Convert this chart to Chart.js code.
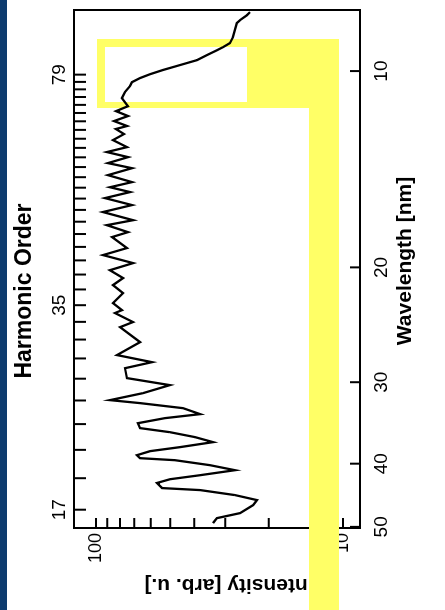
<!DOCTYPE html>
<html>
<head>
<meta charset="utf-8">
<script src="https://cdn.jsdelivr.net/npm/chart.js@4.4.1/dist/chart.umd.min.js"></script>
<style>
  html, body { margin: 0; padding: 0; background: #fff; }
  body { width: 445px; height: 610px; overflow: hidden; position: relative; }
  #spectrum { position: absolute; left: 0; top: 0; transform-origin: 0 0; }
</style>
</head>
<body>
<canvas id="spectrum"></canvas>
<script>
// harmonic spectrum, drawn with wavelength along x and then turned 90deg to the left
const wavelengthNm = [
  8.12, 8.21, 8.35, 8.44, 8.65, 8.87, 9.06, 9.19, 9.29, 9.45,
  9.62, 9.72, 9.82, 9.96, 10.11, 10.25, 10.40, 10.54, 10.77, 11.00,
  11.32, 11.52, 11.72, 11.93, 12.14, 12.27, 12.49, 12.76, 13.08, 13.31,
  13.55, 13.84, 14.09, 14.44, 14.80, 15.07, 15.33, 15.66, 16.05, 16.45,
  16.93, 17.23, 17.66, 17.97, 18.68, 19.15, 19.70, 20.20, 20.77, 21.29,
  21.90, 22.69, 23.26, 23.50, 24.26, 24.70, 26.04, 27.26, 27.95, 28.55,
  29.57, 30.31, 31.18, 31.96, 32.30, 32.88, 33.58, 34.06, 34.67, 35.28,
  35.79, 36.42, 37.07, 37.73, 38.27, 38.82, 39.23, 39.51, 40.21, 40.93,
  41.66, 42.26, 42.82, 43.60, 43.91, 44.69, 45.49, 46.30, 47.63, 48.48,
  49.34
];
const intensity = [
  23.8, 24.5, 26.1, 26.9, 27.4, 27.9, 28.7, 30.6, 32.4, 35.5,
  39.0, 42.8, 47.0, 53.5, 60.4, 66.3, 71.5, 72.8, 76.3, 78.5,
  74.2, 83.0, 74.2, 84.5, 74.9, 83.0, 77.0, 85.3, 74.9, 90.3,
  74.2, 89.4, 71.5, 89.4, 71.5, 87.8, 72.8, 91.9, 71.5, 93.7,
  70.8, 90.3, 74.2, 86.1, 74.9, 93.7, 70.8, 87.8, 77.7, 85.3,
  77.7, 85.3, 78.5, 83.8, 70.8, 79.9, 66.3, 82.2, 59.3, 76.3,
  74.9, 50.2, 64.5, 87.8, 66.3, 44.4, 37.9, 52.6, 67.6, 66.3,
  50.2, 39.7, 33.6, 45.7, 60.4, 68.2, 66.3, 47.9, 34.6, 27.4,
  37.9, 50.2, 56.6, 54.0, 37.9, 27.4, 22.3, 23.1, 26.1, 32.4,
  33.6
];

const wavelengthTicks = [10, 20, 30, 40, 50];
const intensityTicks = [10, 20, 30, 40, 50, 60, 70, 80, 90, 100];
const intensityLabels = [10, 100];
const harmonicOrders = [17, 19, 21, 23, 25, 27, 29, 31, 33, 35, 37, 39, 41, 43, 45, 47,
  49, 51, 53, 55, 57, 59, 61, 63, 65, 67, 69, 71, 73, 75, 77, 79];
const harmonicLabels = [17, 35, 79];
const laserNm = 800;

const W = 610, H = 445;
const font = 'Liberation Sans, Arial, sans-serif';

const cv = document.getElementById('spectrum');
cv.width = W; cv.height = H;
cv.style.width = W + 'px'; cv.style.height = H + 'px';
cv.style.transform = 'translate(0px, 610px) rotate(-90deg)';

// rectangle given in page coords (after turning) -> canvas
function pageRect(ctx, x0, y0, x1, y1) {
  ctx.fillRect(610 - y1, x0, y1 - y0, x1 - x0);
}

function title(ctx, text, u, v, size, rot) {
  ctx.save();
  ctx.translate(u, v);
  ctx.rotate(rot);
  ctx.font = 'bold ' + size + 'px ' + font;
  ctx.fillStyle = '#000';
  ctx.textAlign = 'center';
  ctx.textBaseline = 'middle';
  ctx.fillText(text, 0, 0);
  ctx.restore();
}

const decor = {
  id: 'decor',
  beforeDraw(chart) {
    const ctx = chart.ctx;
    ctx.save();
    ctx.fillStyle = '#fff';
    ctx.fillRect(0, 0, chart.width, chart.height);
    ctx.restore();
  },
  beforeDatasetsDraw(chart) {
    const { ctx, chartArea: a, scales } = chart;
    ctx.save();
    ctx.strokeStyle = '#000';
    ctx.lineWidth = 2;
    ctx.strokeRect(a.left, a.top, a.right - a.left, a.bottom - a.top);

    // ticks point into the plot
    ctx.beginPath();
    scales.x.ticks.forEach(t => {
      const p = scales.x.getPixelForValue(t.value);
      ctx.moveTo(p, a.bottom); ctx.lineTo(p, a.bottom - 10);
    });
    scales.x2.ticks.forEach(t => {
      const p = scales.x2.getPixelForValue(t.value);
      ctx.moveTo(p, a.top); ctx.lineTo(p, a.top + 12);
    });
    scales.y.ticks.forEach(t => {
      const p = scales.y.getPixelForValue(t.value);
      ctx.moveTo(a.left, p); ctx.lineTo(a.left + 10, p);
    });
    ctx.stroke();

    // axis titles
    title(ctx, 'Harmonic Order', 319, 25, 23, 0);
    title(ctx, 'Wavelength [nm]', 349, 405, 21, 0);
    title(ctx, 'Intensity [arb. u.]', 25, 229, 21, -Math.PI / 2);

    // yellow highlight laid over the scan
    ctx.fillStyle = '#ffff66';
    pageRect(ctx, 97, 39, 339, 47);
    pageRect(ctx, 97, 39, 105, 108);
    pageRect(ctx, 97, 102, 339, 108);
    pageRect(ctx, 247, 39, 339, 108);
    pageRect(ctx, 309, 108, 339, 610);

    // slide border
    ctx.fillStyle = '#0d3b6e';
    pageRect(ctx, 0, 0, 7, 610);
    ctx.restore();
  }
};

const tickFont = { family: font, size: 19 };

new Chart(cv, {
  type: 'scatter',
  data: {
    datasets: [{
      data: wavelengthNm.map((w, i) => ({ x: w, y: intensity[i] })),
      showLine: true,
      borderColor: '#000',
      borderWidth: 2.3,
      pointRadius: 0,
      tension: 0
    }]
  },
  options: {
    responsive: false,
    animation: false,
    devicePixelRatio: 1,
    layout: { padding: { left: 0, right: 10, top: 0, bottom: 0 } },
    plugins: { legend: { display: false }, tooltip: { enabled: false } },
    scales: {
      x: {
        type: 'logarithmic', position: 'bottom', reverse: true, min: 8.06, max: 50.2,
        afterBuildTicks: s => { s.ticks = wavelengthTicks.map(v => ({ value: v })); },
        afterFit: s => { s.height = 85; },
        grid: { display: false, drawTicks: false },
        border: { display: false },
        ticks: { autoSkip: false, maxRotation: 0, minRotation: 0, padding: 10, color: '#000', font: tickFont,
                 callback: v => String(v) }
      },
      x2: {
        type: 'logarithmic', position: 'top', reverse: true, min: 8.06, max: 50.2,
        afterBuildTicks: s => { s.ticks = harmonicOrders.map(n => ({ value: laserNm / n })); },
        afterFit: s => { s.height = 74; },
        grid: { display: false, drawTicks: false },
        border: { display: false },
        ticks: { autoSkip: false, maxRotation: 0, minRotation: 0, padding: 3, color: '#000', font: tickFont,
                 callback: (v, i) => harmonicLabels.includes(harmonicOrders[i]) ? String(harmonicOrders[i]) : '' }
      },
      y: {
        type: 'logarithmic', position: 'left', min: 8.54, max: 122.7,
        afterBuildTicks: s => { s.ticks = intensityTicks.map(v => ({ value: v })); },
        afterFit: s => { s.width = 82; },
        grid: { display: false, drawTicks: false },
        border: { display: false },
        ticks: { autoSkip: false, padding: 5, color: '#000', font: { family: font, size: 18 },
                 callback: v => intensityLabels.includes(v) ? String(v) : '' }
      }
    }
  },
  plugins: [decor]
});
</script>
</body>
</html>
